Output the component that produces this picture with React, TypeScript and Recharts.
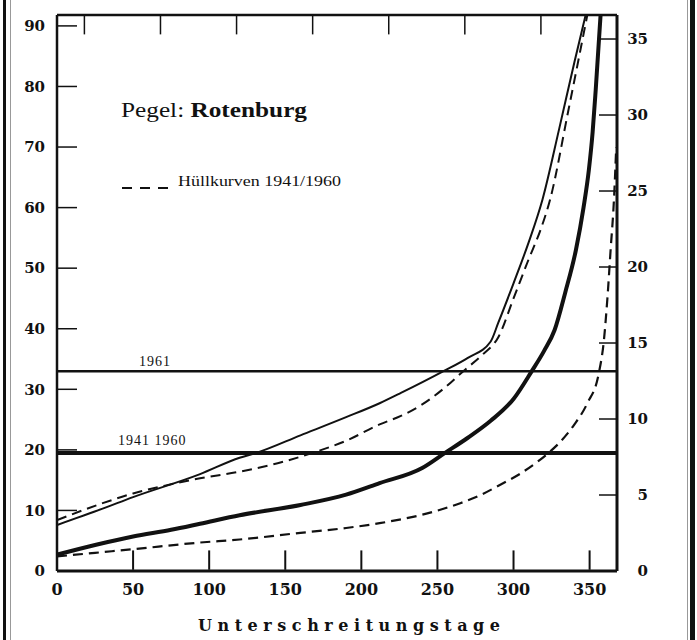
import React from "react";
import { LineChart, Line, XAxis, YAxis, ReferenceLine } from "recharts";

const dayTicks = [0, 50, 100, 150, 200, 250, 300, 350];
const topTicks = [18, 68, 118, 168, 218, 268, 318];
const levelTicks = [0, 10, 20, 30, 40, 50, 60, 70, 80, 90];
const flowTicks = [0, 5, 10, 15, 20, 25, 30, 35];

// 1961 (thin solid)
const days1961 = [0, 30, 50, 94, 120, 131, 160, 190, 212, 226, 254, 270, 285, 290, 300, 310, 319, 330, 340, 347.4];
const level1961 = [7.6, 10.3, 12.2, 16.0, 18.7, 19.5, 22.4, 25.4, 27.7, 29.4, 33.0, 35.2, 37.9, 41.0, 47.5, 54.3, 61.3, 73.0, 84.0, 91.8];

// Hüllkurve oben (dashed)
const daysUpper = [0, 30, 50, 71, 94, 120, 145, 168, 190, 212, 226, 240, 255, 267, 280, 290, 300, 310, 318, 324, 336, 348.5];
const levelUpper = [8.4, 11.2, 12.8, 14.1, 15.3, 16.4, 17.8, 19.5, 21.5, 24.2, 25.6, 27.5, 30.3, 33.0, 35.8, 38.6, 45.0, 51.5, 56.5, 61.3, 76.0, 91.8];

// 1941/1960 (thick solid)
const daysMean = [0, 25, 50, 75, 94, 120, 160, 190, 212, 240, 255, 270, 285, 300, 312, 320, 327, 334, 341, 346, 349.5, 352, 354, 357.2];
const levelMean = [2.7, 4.3, 5.7, 6.8, 7.8, 9.2, 10.9, 12.6, 14.5, 17.0, 19.5, 22.0, 24.8, 28.4, 33.0, 36.3, 39.8, 46.0, 53.0, 60.0, 66.2, 72.5, 79.4, 91.8];

// Hüllkurve unten (dashed)
const daysLower = [0, 25, 50, 94, 120, 160, 190, 212, 240, 265, 278, 291, 304.6, 315.6, 323, 331, 339.7, 348.5, 356, 359.4, 361.6, 363.8, 366, 367.5];
const levelLower = [2.4, 3.0, 3.6, 4.7, 5.2, 6.3, 7.1, 7.9, 9.3, 11.2, 12.5, 14.2, 16.1, 18.0, 19.5, 21.4, 24.1, 27.7, 32.6, 38.1, 44.7, 53.0, 61.3, 70.0];

const mean1961 = 33.0;
const mean1941to1960 = 19.5;

const levelMax = 91.8;
const flowMax = 36.58;
const dayMax = 368;
// inward tick length, in level units
const markLen = 3.2;

const toPoints = (days: number[], values: number[]) =>
  days.map((day, i) => ({ day, value: values[i] }));

const ink = "#111";
const frameLine = { stroke: ink, strokeWidth: 2.5 };
const markLine = { stroke: ink, strokeWidth: 1.5 };

const tickFont = {
  fontFamily: "DejaVu Serif",
  fontWeight: 700,
  fill: ink,
};

// keeps the tick line but draws no text
const NoText = () => <g />;

const RightTick = ({ x, y, payload }: any) => (
  <text x={x} y={y} dy="0.355em" textAnchor="end" fontSize={15} {...tickFont}>
    {payload.value}
  </text>
);

const LineLabel = ({ viewBox, text, dx, dy }: any) => (
  <text
    x={viewBox.x + dx}
    y={viewBox.y + dy}
    fontFamily="Liberation Serif"
    fontSize={14}
    letterSpacing={1}
    fill={ink}
  >
    {text}
  </text>
);

export default function App() {
  return (
    <div
      style={{
        position: "absolute",
        left: 0,
        top: 0,
        width: 697,
        height: 640,
        background: "#fff",
      }}
    >
      <LineChart
        width={697}
        height={640}
        margin={{ top: 15, right: 0, bottom: 0, left: 0 }}
      >
        <XAxis
          dataKey="day"
          type="number"
          domain={[0, dayMax]}
          allowDataOverflow
          ticks={dayTicks}
          interval={0}
          height={69}
          tickSize={0}
          tickMargin={13}
          tick={{ fontSize: 16, ...tickFont }}
          axisLine={{ stroke: ink, strokeWidth: 3 }}
          tickLine={false}
        />

        {/* inward tick marks on both level axes (mirrored, no labels) */}
        <YAxis
          yAxisId="leftMarks"
          type="number"
          domain={[0, levelMax]}
          allowDataOverflow
          ticks={levelTicks}
          mirror
          width={1}
          tick={<NoText />}
          tickSize={20}
          axisLine={false}
          tickLine={markLine}
        />
        <YAxis
          yAxisId="rightMarks"
          orientation="right"
          type="number"
          domain={[0, flowMax]}
          allowDataOverflow
          ticks={flowTicks}
          mirror
          width={1}
          tick={<NoText />}
          tickSize={18}
          axisLine={false}
          tickLine={markLine}
        />

        <YAxis
          type="number"
          domain={[0, levelMax]}
          allowDataOverflow
          ticks={levelTicks}
          width={57}
          tickSize={0}
          tickMargin={12}
          tick={{ fontSize: 15, ...tickFont }}
          axisLine={frameLine}
          tickLine={false}
        />
        <YAxis
          yAxisId="right"
          orientation="right"
          type="number"
          domain={[0, flowMax]}
          allowDataOverflow
          ticks={flowTicks}
          width={80}
          tickSize={0}
          tickMargin={31}
          tick={<RightTick />}
          axisLine={{ stroke: ink, strokeWidth: 3 }}
          tickLine={false}
        />

        {/* top frame line and the inward day marks along top and bottom */}
        <ReferenceLine y={levelMax} stroke={ink} strokeWidth={2.5} />
        {dayTicks.map((d) => (
          <ReferenceLine
            key={`b${d}`}
            ifOverflow="visible"
            segment={[
              { x: d, y: 0.2 },
              { x: d, y: 0.2 + markLen },
            ]}
            stroke={ink}
            strokeWidth={2}
          />
        ))}
        {topTicks.map((d) => (
          <ReferenceLine
            key={`t${d}`}
            ifOverflow="visible"
            segment={[
              { x: d, y: levelMax },
              { x: d, y: levelMax - markLen },
            ]}
            {...markLine}
          />
        ))}

        <ReferenceLine
          y={mean1961}
          stroke={ink}
          strokeWidth={2.5}
          label={<LineLabel text="1961" dx={82} dy={-5} />}
        />
        <ReferenceLine
          y={mean1941to1960}
          stroke={ink}
          strokeWidth={4}
          label={<LineLabel text="1941 1960" dx={61} dy={-8} />}
        />

        <Line
          data={toPoints(daysLower, levelLower)}
          dataKey="value"
          type="monotone"
          stroke={ink}
          strokeWidth={2.2}
          strokeDasharray="10 6"
          dot={false}
          isAnimationActive={false}
        />
        <Line
          data={toPoints(daysUpper, levelUpper)}
          dataKey="value"
          type="monotone"
          stroke={ink}
          strokeWidth={2}
          strokeDasharray="10 6"
          dot={false}
          isAnimationActive={false}
        />
        <Line
          data={toPoints(days1961, level1961)}
          dataKey="value"
          type="monotone"
          stroke={ink}
          strokeWidth={2}
          dot={false}
          isAnimationActive={false}
        />
        <Line
          data={toPoints(daysMean, levelMean)}
          dataKey="value"
          type="monotone"
          stroke={ink}
          strokeWidth={4}
          dot={false}
          isAnimationActive={false}
        />
      </LineChart>

      {/* station name, legend, axis title and page edges */}
      <svg
        width={697}
        height={640}
        style={{ position: "absolute", left: 0, top: 0, pointerEvents: "none" }}
      >
        <text
          x={121}
          y={117}
          fontFamily="Liberation Serif"
          fontSize={22}
          fill={ink}
          textLength={186}
          lengthAdjust="spacingAndGlyphs"
        >
          <tspan fontWeight={500}>Pegel: </tspan>
          <tspan fontWeight={700}>Rotenburg</tspan>
        </text>

        <line
          x1={122}
          x2={173}
          y1={188}
          y2={188}
          stroke={ink}
          strokeWidth={2}
          strokeDasharray="10 8"
        />
        <text
          x={178}
          y={186}
          fontFamily="Liberation Serif"
          fontSize={15}
          fill={ink}
          textLength={163}
          lengthAdjust="spacingAndGlyphs"
        >
          Hüllkurven 1941/1960
        </text>

        <text
          x={198}
          y={631}
          fontFamily="DejaVu Serif"
          fontWeight={700}
          fontSize={16}
          fill={ink}
          textLength={302}
          lengthAdjust="spacing"
        >
          Unterschreitungstage
        </text>

        <rect x={3} y={0} width={3} height={640} fill={ink} />
        <rect x={10} y={0} width={1} height={640} fill="#999" />
        <rect x={687} y={0} width={1} height={640} fill="#999" />
        <rect x={690} y={0} width={5} height={640} fill={ink} />
      </svg>
    </div>
  );
}
